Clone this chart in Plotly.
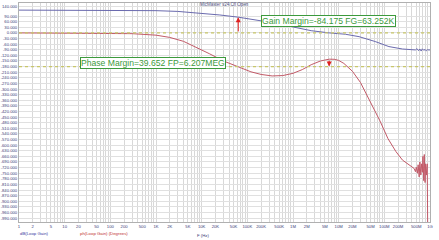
import numpy as np
import plotly.graph_objects as go

# ---- data ----
gain_freq = [1, 10, 100, 1000, 3000, 10000, 25000, 63252, 2e5, 6.3e5, 1e6, 2.5e6, 6.207e6,
             1.4e7, 2.8e7, 6.3e7, 1.26e8, 2.5e8, 4.8e8, 5.2e8, 5.6e8, 6.0e8, 6.4e8, 6.8e8,
             7.3e8, 7.8e8, 8.3e8, 8.9e8, 9.5e8, 1e9]
gain_db = [122, 122, 121.5, 119, 115, 106, 96, 84.2, 66, 45, 32, 12, 0,
           -7, -20, -46, -73, -86, -91, -84, -95, -86, -97, -85,
           -93, -88, -96, -89, -92, -90]

phase_freq = [1, 10, 100, 300, 1000, 2000, 4000, 8000, 15000, 30000, 63252, 1.2e5, 2e5,
              3.5e5, 6e5, 1e6, 1.6e6, 2.5e6, 4e6, 6.207e6, 8e6, 1e7, 1.3e7, 2e7, 3e7,
              5e7, 8e7, 1.2e8, 1.8e8, 2.5e8, 3.5e8, 4.5e8, 4.8e8, 5.0e8, 5.3e8, 5.5e8,
              5.8e8, 6.0e8, 6.3e8, 6.5e8, 6.8e8, 7.0e8, 7.3e8, 7.5e8, 7.8e8, 8.0e8, 8.3e8,
              8.7e8, 8.9e8]
phase_deg = [0, -0.3, -1.5, -4, -12, -24, -45, -78, -112, -150, -180, -208, -222,
             -230, -228, -216, -196, -170, -150, -140.35, -141, -147, -163, -205, -265,
             -370, -470, -565, -635, -680, -708, -725, -742, -718, -750, -705,
             -770, -690, -760, -700, -745, -660, -790, -650, -800, -700, -760,
             -700, -1050]

x_labels = {1: "1", 2: "2", 5: "5", 10: "10", 20: "20", 50: "50", 100: "100", 200: "200",
            500: "500", 1e3: "1K", 2e3: "2K", 5e3: "5K", 1e4: "10K", 2e4: "20K", 5e4: "50K",
            1e5: "100K", 2e5: "200K", 5e5: "500K", 1e6: "1M", 2e6: "2M", 5e6: "5M",
            1e7: "10M", 2e7: "20M", 5e7: "50M", 1e8: "100M", 2e8: "200M", 5e8: "500M",
            1e9: "1G"}
y_tick_vals = [140] + list(range(90, -991, -30))
y_tick_text = ["%.3f" % v for v in y_tick_vals]

gain_margin = -84.175
fg = 63252
phase_margin = 39.652
fp = 6.207e6

# all 1..9 per decade as grid positions; only some get labels
x_tick_vals, x_tick_text = [], []
for dec in range(0, 10):
    for m in range(1, 10):
        v = m * 10.0 ** dec
        if v > 1e9 * 1.0001:
            break
        key = None
        for k in x_labels:
            if abs(k - v) / v < 1e-6:
                key = k
        x_tick_vals.append(v)
        x_tick_text.append(x_labels[key] if key is not None else "")

fig = go.Figure()
fig.add_trace(go.Scatter(x=gain_freq, y=gain_db, mode="lines",
                         line=dict(color="#6a6aae", width=1), showlegend=False))
fig.add_trace(go.Scatter(x=phase_freq, y=phase_deg, mode="lines",
                         line=dict(color="#c25a68", width=1), showlegend=False))

for yv in (0, -180):
    fig.add_hline(y=yv, line=dict(color="#c8c66a", width=1.2, dash="dot"))

W, H = 439, 240
L, R, T, B = 19, 9, 3, 18

fig.update_layout(
    width=W, height=H, margin=dict(l=L, r=R, t=T, b=B, autoexpand=False),
    paper_bgcolor="white", plot_bgcolor="white",
    font=dict(family="Arial, Liberation Sans, sans-serif", size=4, color="#3c3c78"),
)
fig.update_xaxes(type="log", range=[0, 9], tickmode="array", tickvals=x_tick_vals,
                 ticktext=x_tick_text, tickangle=0,
                 showgrid=True, gridcolor="#d8d8d8", gridwidth=1,
                 ticks="", showline=True, linecolor="#b0b0b0", mirror=True,
                 tickfont=dict(size=4.2, color="#3c3c78"), zeroline=False, automargin=False)
fig.update_yaxes(range=[-1011, 160], tickmode="array", tickvals=y_tick_vals,
                 ticktext=y_tick_text,
                 showgrid=True, gridcolor="#e0e0e0", gridwidth=1,
                 ticks="", showline=True, linecolor="#b0b0b0", mirror=True,
                 tickfont=dict(size=4.2, color="#3c3c78"), zeroline=False, automargin=False)

green = "#3c9a3c"
fig.add_annotation(x=np.log10(fg), y=-gain_margin, ax=np.log10(fg), ay=0,
                   axref="x", ayref="y", xref="x", yref="y", text="",
                   showarrow=True, arrowhead=2, arrowsize=1, arrowwidth=1,
                   arrowcolor="#e02020")
fig.add_annotation(x=np.log10(fp), y=-180, ax=np.log10(fp), ay=-180 + phase_margin,
                   axref="x", ayref="y", xref="x", yref="y", text="",
                   showarrow=True, arrowhead=2, arrowsize=1, arrowwidth=1,
                   arrowcolor="#e02020")

fig.add_annotation(x=5.31, y=64, xref="x", yref="y", xanchor="left", yanchor="middle",
                   text="Gain Margin=%.3f FG=%.3fK" % (gain_margin, fg / 1000),
                   showarrow=False, font=dict(size=8.6, color=green),
                   bgcolor="white", bordercolor=green, borderwidth=1, borderpad=0)
fig.add_annotation(x=1.34, y=-160, xref="x", yref="y", xanchor="left", yanchor="middle",
                   text="Phase Margin=%.3f FP=%.3fMEG" % (phase_margin, fp / 1e6),
                   showarrow=False, font=dict(size=8.6, color=green),
                   bgcolor="white", bordercolor=green, borderwidth=1, borderpad=0)

pw = W - L - R
ph = H - T - B
def px(xp): return (xp - L) / pw
def py(yp): return (H - B - yp) / ph

fig.add_annotation(x=px(224.5), y=py(4), xref="paper", yref="paper", text="MicMaster v24.Cfl Open",
                   showarrow=False, font=dict(size=4.5, color="#505080"), yanchor="middle")
fig.add_annotation(x=px(18), y=py(228.5), xref="paper", yref="paper", text="dB(Loop Gain)",
                   xanchor="left", yanchor="top", showarrow=False,
                   font=dict(size=4.3, color="#3a3aa0"))
fig.add_annotation(x=px(78), y=py(229), xref="paper", yref="paper",
                   text="ph(Loop Gain) (Degrees)", xanchor="left", yanchor="top",
                   showarrow=False, font=dict(size=4.3, color="#c03030"))
fig.add_annotation(x=px(203), y=py(230.5), xref="paper", yref="paper", text="F (Hz)",
                   yanchor="top", showarrow=False, font=dict(size=4.3, color="#3c3c78"))

fig.write_html("out.html")
